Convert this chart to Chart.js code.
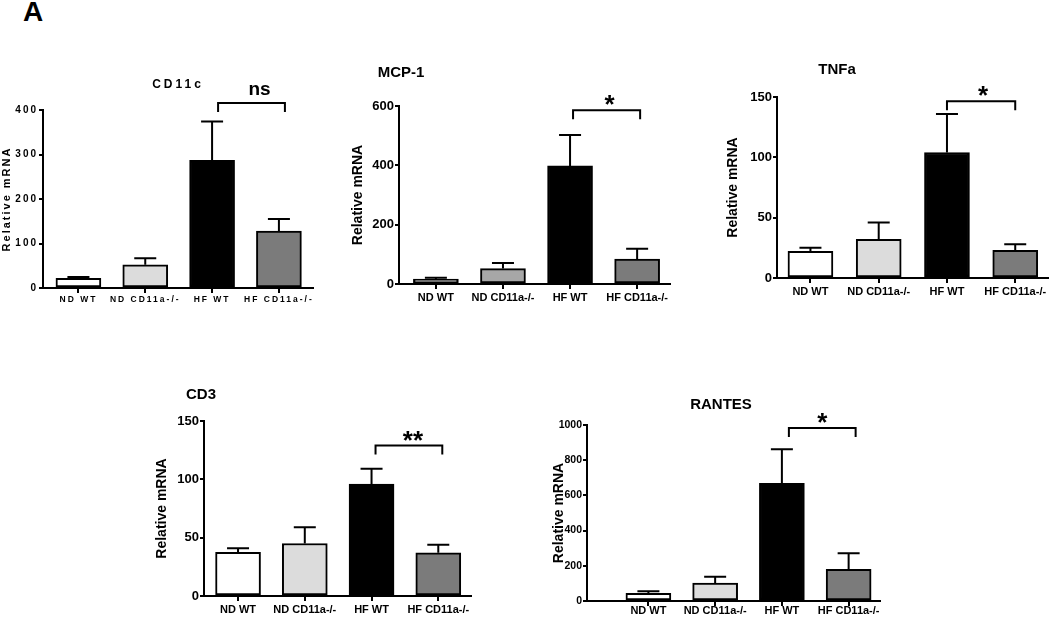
<!DOCTYPE html>
<html>
<head>
<meta charset="utf-8">
<script src="https://cdn.jsdelivr.net/npm/chart.js@4.4.1/dist/chart.umd.min.js"></script>
<style>
    html, body { margin: 0; padding: 0; background: #fff; }
    body { width: 1050px; height: 617px; position: relative; overflow: hidden; }
    canvas { position: absolute; }
    #panelLetter {
        position: absolute; left: 23px; top: -2px;
        font: bold 28px/28px "Liberation Sans", Arial, sans-serif; color: #000;
    }
</style>
</head>
<body>
<div id="panelLetter">A</div>
<canvas id="cd11cChart"></canvas>
<canvas id="mcp1Chart"></canvas>
<canvas id="tnfaChart"></canvas>
<canvas id="cd3Chart"></canvas>
<canvas id="rantesChart"></canvas>

<script>
// Groups shown on every panel
const categories = ["ND WT", "ND CD11a-/-", "HF WT", "HF CD11a-/-"];

// Mean relative mRNA and SEM (upper error bar) per group
const cd11cMean = [22, 52, 287, 128];
const cd11cSem = [3, 15, 87, 27];
const cd11cTicks = [0, 100, 200, 300, 400];

const mcp1Mean = [17, 52, 398, 84];
const mcp1Sem = [4, 19, 104, 35];
const mcp1Ticks = [0, 200, 400, 600];

const tnfaMean = [22, 32, 104, 23];
const tnfaSem = [3, 14, 32, 5];
const tnfaTicks = [0, 50, 100, 150];

const cd3Mean = [37.5, 45, 96, 37];
const cd3Sem = [3.5, 14, 13, 7];
const cd3Ticks = [0, 50, 100, 150];

const rantesMean = [44, 102, 668, 180];
const rantesSem = [11, 36, 194, 91];
const rantesTicks = [0, 200, 400, 600, 800, 1000];

// Significance between HF WT and HF CD11a-/-
const cd11cSig = "ns";
const mcp1Sig = "*";
const tnfaSig = "*";
const cd3Sig = "**";
const rantesSig = "*";

const FONT = '"Liberation Sans", Arial, sans-serif';
Chart.defaults.font.family = FONT;
Chart.defaults.color = "#000";

const fillsDefault = ["#ffffff", "#dcdcdc", "#000000", "#7b7b7b"];
const fillsMcp = ["#ffffff", "#a7a7a7", "#000000", "#7b7b7b"];

const panels = [
    {
        id: "cd11cChart", title: "CD11c", sig: cd11cSig, mean: cd11cMean, sem: cd11cSem, ticks: cd11cTicks,
        canvas: { left: 0, top: 50, w: 320, h: 270 }, titlePad: 0, tickSize: 10, xPad: 2,
        area: { left: 43, top: 110, bottom: 288, right: 313 },
        xMin: -0.53, xMax: 3.51, fills: fillsDefault,
        titleDx: 135, titleDy: -25, bracketAt: 416, bracketDx: 6, sigDx: 8, sigDy: -8,
        spaced: true
    },
    {
        id: "mcp1Chart", title: "MCP-1", sig: mcp1Sig, mean: mcp1Mean, sem: mcp1Sem, ticks: mcp1Ticks,
        canvas: { left: 350, top: 50, w: 330, h: 270 }, titlePad: 0, tickSize: 13, xPad: 2,
        area: { left: 399, top: 106, bottom: 284, right: 670 },
        xMin: -0.55, xMax: 3.49, fills: fillsMcp,
        titleDx: 2, titleDy: -33, bracketAt: 586, bracketDx: 3, sigDx: 3, sigDy: 3
    },
    {
        id: "tnfaChart", title: "TNFa", sig: tnfaSig, mean: tnfaMean, sem: tnfaSem, ticks: tnfaTicks,
        canvas: { left: 725, top: 50, w: 325, h: 270 }, titlePad: 0, tickSize: 13, xPad: 2,
        area: { left: 777, top: 97, bottom: 278, right: 1048 },
        xMin: -0.49, xMax: 3.48, fills: fillsDefault,
        titleDx: 60, titleDy: -27, bracketAt: 146.5, bracketDx: 0, sigDx: 2, sigDy: 3
    },
    {
        id: "cd3Chart", title: "CD3", sig: cd3Sig, mean: cd3Mean, sem: cd3Sem, ticks: cd3Ticks,
        canvas: { left: 154, top: 370, w: 326, h: 247 }, titlePad: 0, tickSize: 13, xPad: 2,
        area: { left: 204, top: 421, bottom: 596, right: 471 },
        xMin: -0.51, xMax: 3.49, fills: fillsDefault,
        titleDx: -3, titleDy: -26, bracketAt: 129, bracketDx: 4, sigDx: 4, sigDy: 3
    },
    {
        id: "rantesChart", title: "RANTES", sig: rantesSig, mean: rantesMean, sem: rantesSem, ticks: rantesTicks,
        canvas: { left: 546, top: 370, w: 344, h: 247 }, titlePad: 5, tickSize: 10.5, xPad: -2,
        area: { left: 587, top: 425, bottom: 601, right: 880 },
        xMin: -0.92, xMax: 3.47, fills: fillsDefault,
        titleDx: 134, titleDy: -20, bracketAt: 983, bracketDx: 7, sigDx: 0, sigDy: 3
    }
];

// Letter spacing for the CD11c panel (canvas resets state on resize)
const spacingPlugin = {
    id: "spacing",
    beforeUpdate(chart, args, opts) { chart.ctx.letterSpacing = opts.value || "0px"; },
    beforeDraw(chart, args, opts) { chart.ctx.letterSpacing = opts.value || "0px"; }
};

// Upper SEM whiskers with a cap
const errorBarPlugin = {
    id: "errorBars",
    afterDatasetsDraw(chart, args, opts) {
        const ctx = chart.ctx;
        const yScale = chart.scales.y;
        const meta = chart.getDatasetMeta(0);
        ctx.save();
        ctx.strokeStyle = "#000";
        ctx.lineWidth = 2;
        meta.data.forEach((bar, i) => {
            const top = yScale.getPixelForValue(opts.mean[i] + opts.sem[i]);
            ctx.beginPath();
            ctx.moveTo(bar.x, bar.y);
            ctx.lineTo(bar.x, top);
            ctx.moveTo(bar.x - 11, top);
            ctx.lineTo(bar.x + 11, top);
            ctx.stroke();
        });
        ctx.restore();
    }
};

// Panel title, comparison bracket and significance mark
const annotatePlugin = {
    id: "annotate",
    afterDraw(chart, args, p) {
        const ctx = chart.ctx;
        const area = chart.chartArea;
        const xs = chart.scales.x, ys = chart.scales.y;
        ctx.save();
        ctx.fillStyle = "#000";
        ctx.strokeStyle = "#000";
        ctx.textAlign = "center";

        ctx.letterSpacing = p.spaced ? "3px" : "0px";
        ctx.font = "bold " + (p.spaced ? 12 : 15) + "px " + FONT;
        ctx.textBaseline = "middle";
        ctx.fillText(p.title, area.left + p.titleDx, area.top + p.titleDy);

        const x1 = xs.getPixelForValue(2) + p.bracketDx;
        const x2 = xs.getPixelForValue(3) + p.bracketDx;
        const yTop = ys.getPixelForValue(p.bracketAt);
        ctx.lineWidth = 2;
        ctx.beginPath();
        ctx.moveTo(x1, yTop + 9);
        ctx.lineTo(x1, yTop);
        ctx.lineTo(x2, yTop);
        ctx.lineTo(x2, yTop + 9);
        ctx.stroke();

        ctx.letterSpacing = "0px";
        ctx.textBaseline = "alphabetic";
        ctx.font = "bold " + (p.sig === "ns" ? 19 : 26) + "px " + FONT;
        ctx.fillText(p.sig, (x1 + x2) / 2 + p.sigDx, yTop + p.sigDy);
        ctx.restore();
    }
};

function buildPanel(p) {
    const el = document.getElementById(p.id);
    el.width = p.canvas.w;
    el.height = p.canvas.h;
    el.style.left = p.canvas.left + "px";
    el.style.top = p.canvas.top + "px";

    const yAxisWidth = p.area.left - p.canvas.left;
    const xAxisHeight = p.canvas.top + p.canvas.h - p.area.bottom;
    const small = p.spaced;

    return new Chart(el, {
        type: "bar",
        data: {
            datasets: [{
                data: p.mean.map((v, i) => ({ x: i, y: v })),
                backgroundColor: p.fills,
                borderColor: "#000",
                borderWidth: 2,
                borderSkipped: false,
                barThickness: 45
            }]
        },
        options: {
            responsive: false,
            animation: false,
            devicePixelRatio: 1,
            layout: {
                padding: {
                    top: p.area.top - p.canvas.top,
                    right: p.canvas.left + p.canvas.w - p.area.right,
                    left: 0, bottom: 0
                }
            },
            plugins: {
                legend: { display: false },
                tooltip: { enabled: false },
                spacing: { value: small ? "2px" : "0px" },
                errorBars: { mean: p.mean, sem: p.sem },
                annotate: p
            },
            scales: {
                x: {
                    type: "linear",
                    offset: false,
                    min: p.xMin,
                    max: p.xMax,
                    afterBuildTicks: (s) => { s.ticks = categories.map((c, i) => ({ value: i })); },
                    afterFit: (s) => { s.height = xAxisHeight; },
                    grid: { display: true, offset: false, drawOnChartArea: false, drawTicks: true, tickLength: 5, color: "#000", lineWidth: 2 },
                    border: { display: true, color: "#000", width: 2 },
                    ticks: {
                        autoSkip: false, maxRotation: 0, minRotation: 0, padding: p.xPad, color: "#000",
                        font: { size: small ? 8.5 : 11, weight: "bold" },
                        callback: (v) => categories[v]
                    }
                },
                y: {
                    type: "linear",
                    min: p.ticks[0],
                    max: p.ticks[p.ticks.length - 1],
                    afterBuildTicks: (s) => { s.ticks = p.ticks.map((v) => ({ value: v })); },
                    afterFit: (s) => { s.width = yAxisWidth; },
                    grid: { display: true, drawOnChartArea: false, drawTicks: true, tickLength: 4, color: "#000", lineWidth: 2 },
                    border: { display: true, color: "#000", width: 2 },
                    ticks: {
                        padding: 1, color: "#000", font: { size: p.tickSize, weight: "bold" },
                        callback: (v) => String(v)
                    },
                    title: {
                        display: true, text: "Relative mRNA", color: "#000",
                        padding: { top: p.titlePad, bottom: 0 },
                        font: { size: small ? 11 : 14, weight: "bold" }
                    }
                }
            }
        },
        plugins: [spacingPlugin, errorBarPlugin, annotatePlugin]
    });
}

const charts = panels.map(buildPanel);
</script>
</body>
</html>
